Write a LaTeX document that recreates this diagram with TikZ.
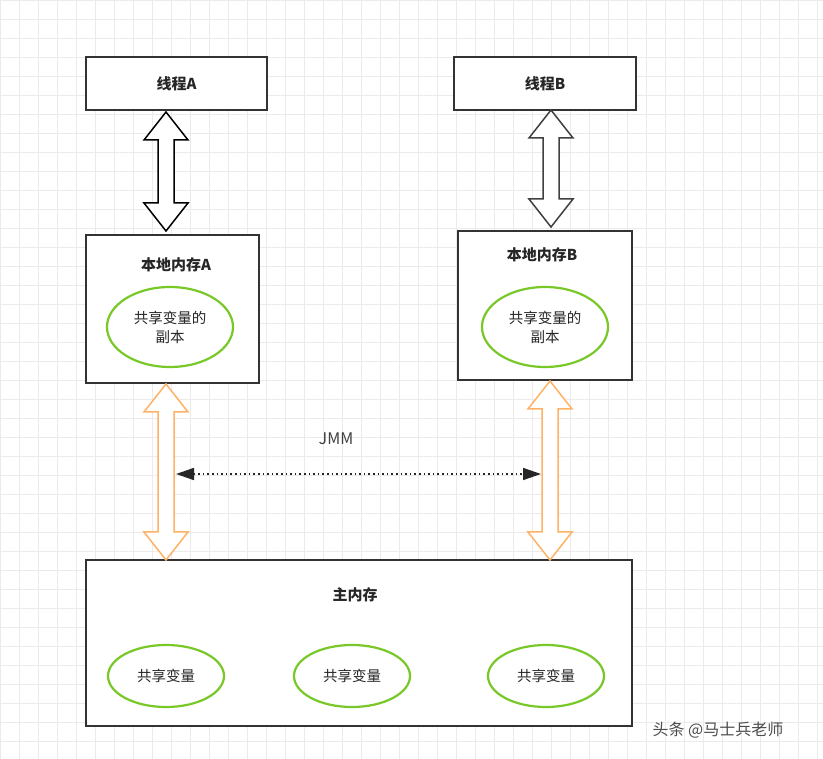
\documentclass[tikz,border=0pt]{standalone}
\usepackage{fontspec}
\setmainfont{Noto Sans CJK SC}
\newfontfamily\cjk{Noto Sans CJK SC}
\usetikzlibrary{arrows.meta}
\definecolor{eg}{RGB}{120,200,40}
\begin{document}
\begin{tikzpicture}[x=1pt,y=-1pt,
 box/.style={draw=black!80,line width=1.3pt,fill=white},
 ell/.style={draw=eg,line width=2.2pt,fill=white},
 lbl/.style={font=\cjk\bfseries\fontsize{15}{17}\selectfont,text=black!85},
 etx/.style={font=\cjk\fontsize{14.5}{19}\selectfont,text=black!85,align=center}]
\useasboundingbox (0,0) rectangle (823,759);
\fill[white] (0,0) rectangle (823,759);
\foreach \i in {0,19,...,823} \draw[black!8,line width=0.5pt] (\i,0) -- (\i,759);
\foreach \i in {0,19,...,759} \draw[black!8,line width=0.5pt] (0,\i) -- (823,\i);
\def\dbl#1#2#3#4{% x, ytop, ybot, style
 \draw[#4] (#1,#2) -- (#1+22,#2+28) -- (#1+8,#2+28) -- (#1+8,#3-28) -- (#1+22,#3-28) -- (#1,#3)
 -- (#1-22,#3-28) -- (#1-8,#3-28) -- (#1-8,#2+28) -- (#1-22,#2+28) -- cycle;}
% threads
\node[box,minimum width=181,minimum height=53,lbl] (ta) at (176.5,83.5) {线程A};
\node[box,minimum width=182,minimum height=53,lbl] (tb) at (545,83.5) {线程B};
% local memories
\draw[box] (86,235) rectangle (259,383);
\node[lbl] (la) at (176,265) {本地内存A};
\draw[box] (458,231) rectangle (632,380);
\node[lbl] (lb) at (542,255) {本地内存B};
\draw[ell] (170,327) ellipse[x radius=63,y radius=40];
\node[etx] (ea) at (170,327) {共享变量的\\副本};
\draw[ell] (545,327) ellipse[x radius=63,y radius=40];
\node[etx] (eb) at (545,327) {共享变量的\\副本};
% main memory
\draw[box] (86,560) rectangle (632,726);
\node[lbl] (mm) at (355,595) {主内存};
\foreach \x/\n in {166/m1,352/m2,546/m3}{
 \draw[ell] (\x,676) ellipse[x radius=58,y radius=31];
 \node[etx] (\n) at (\x,676) {共享变量};}
% arrows
\dbl{166}{112}{231}{draw=black,line width=1.5pt,fill=white}
\dbl{551}{110}{227}{draw=black!75,line width=1.5pt,fill=white}
\dbl{166}{384}{560}{draw=orange!60,line width=1.5pt,fill=white}
\dbl{550}{381}{560}{draw=orange!60,line width=1.5pt,fill=white}
\coordinate (jl) at (176,474);
\coordinate (jr) at (541,474);
\draw[black!85,line width=1.6pt,dash pattern=on 1.6pt off 3pt,{Triangle[width=12pt,length=18pt]}-{Triangle[width=12pt,length=18pt]}] (jl) -- (jr);
\node[font=\fontsize{16}{19}\selectfont,text=black!75] (jmm) at (336,439) {JMM};
\node[font=\cjk\fontsize{16}{19}\selectfont,text=black!70] (wm) at (718,730) {头条 @马士兵老师};
\end{tikzpicture}
\end{document}
